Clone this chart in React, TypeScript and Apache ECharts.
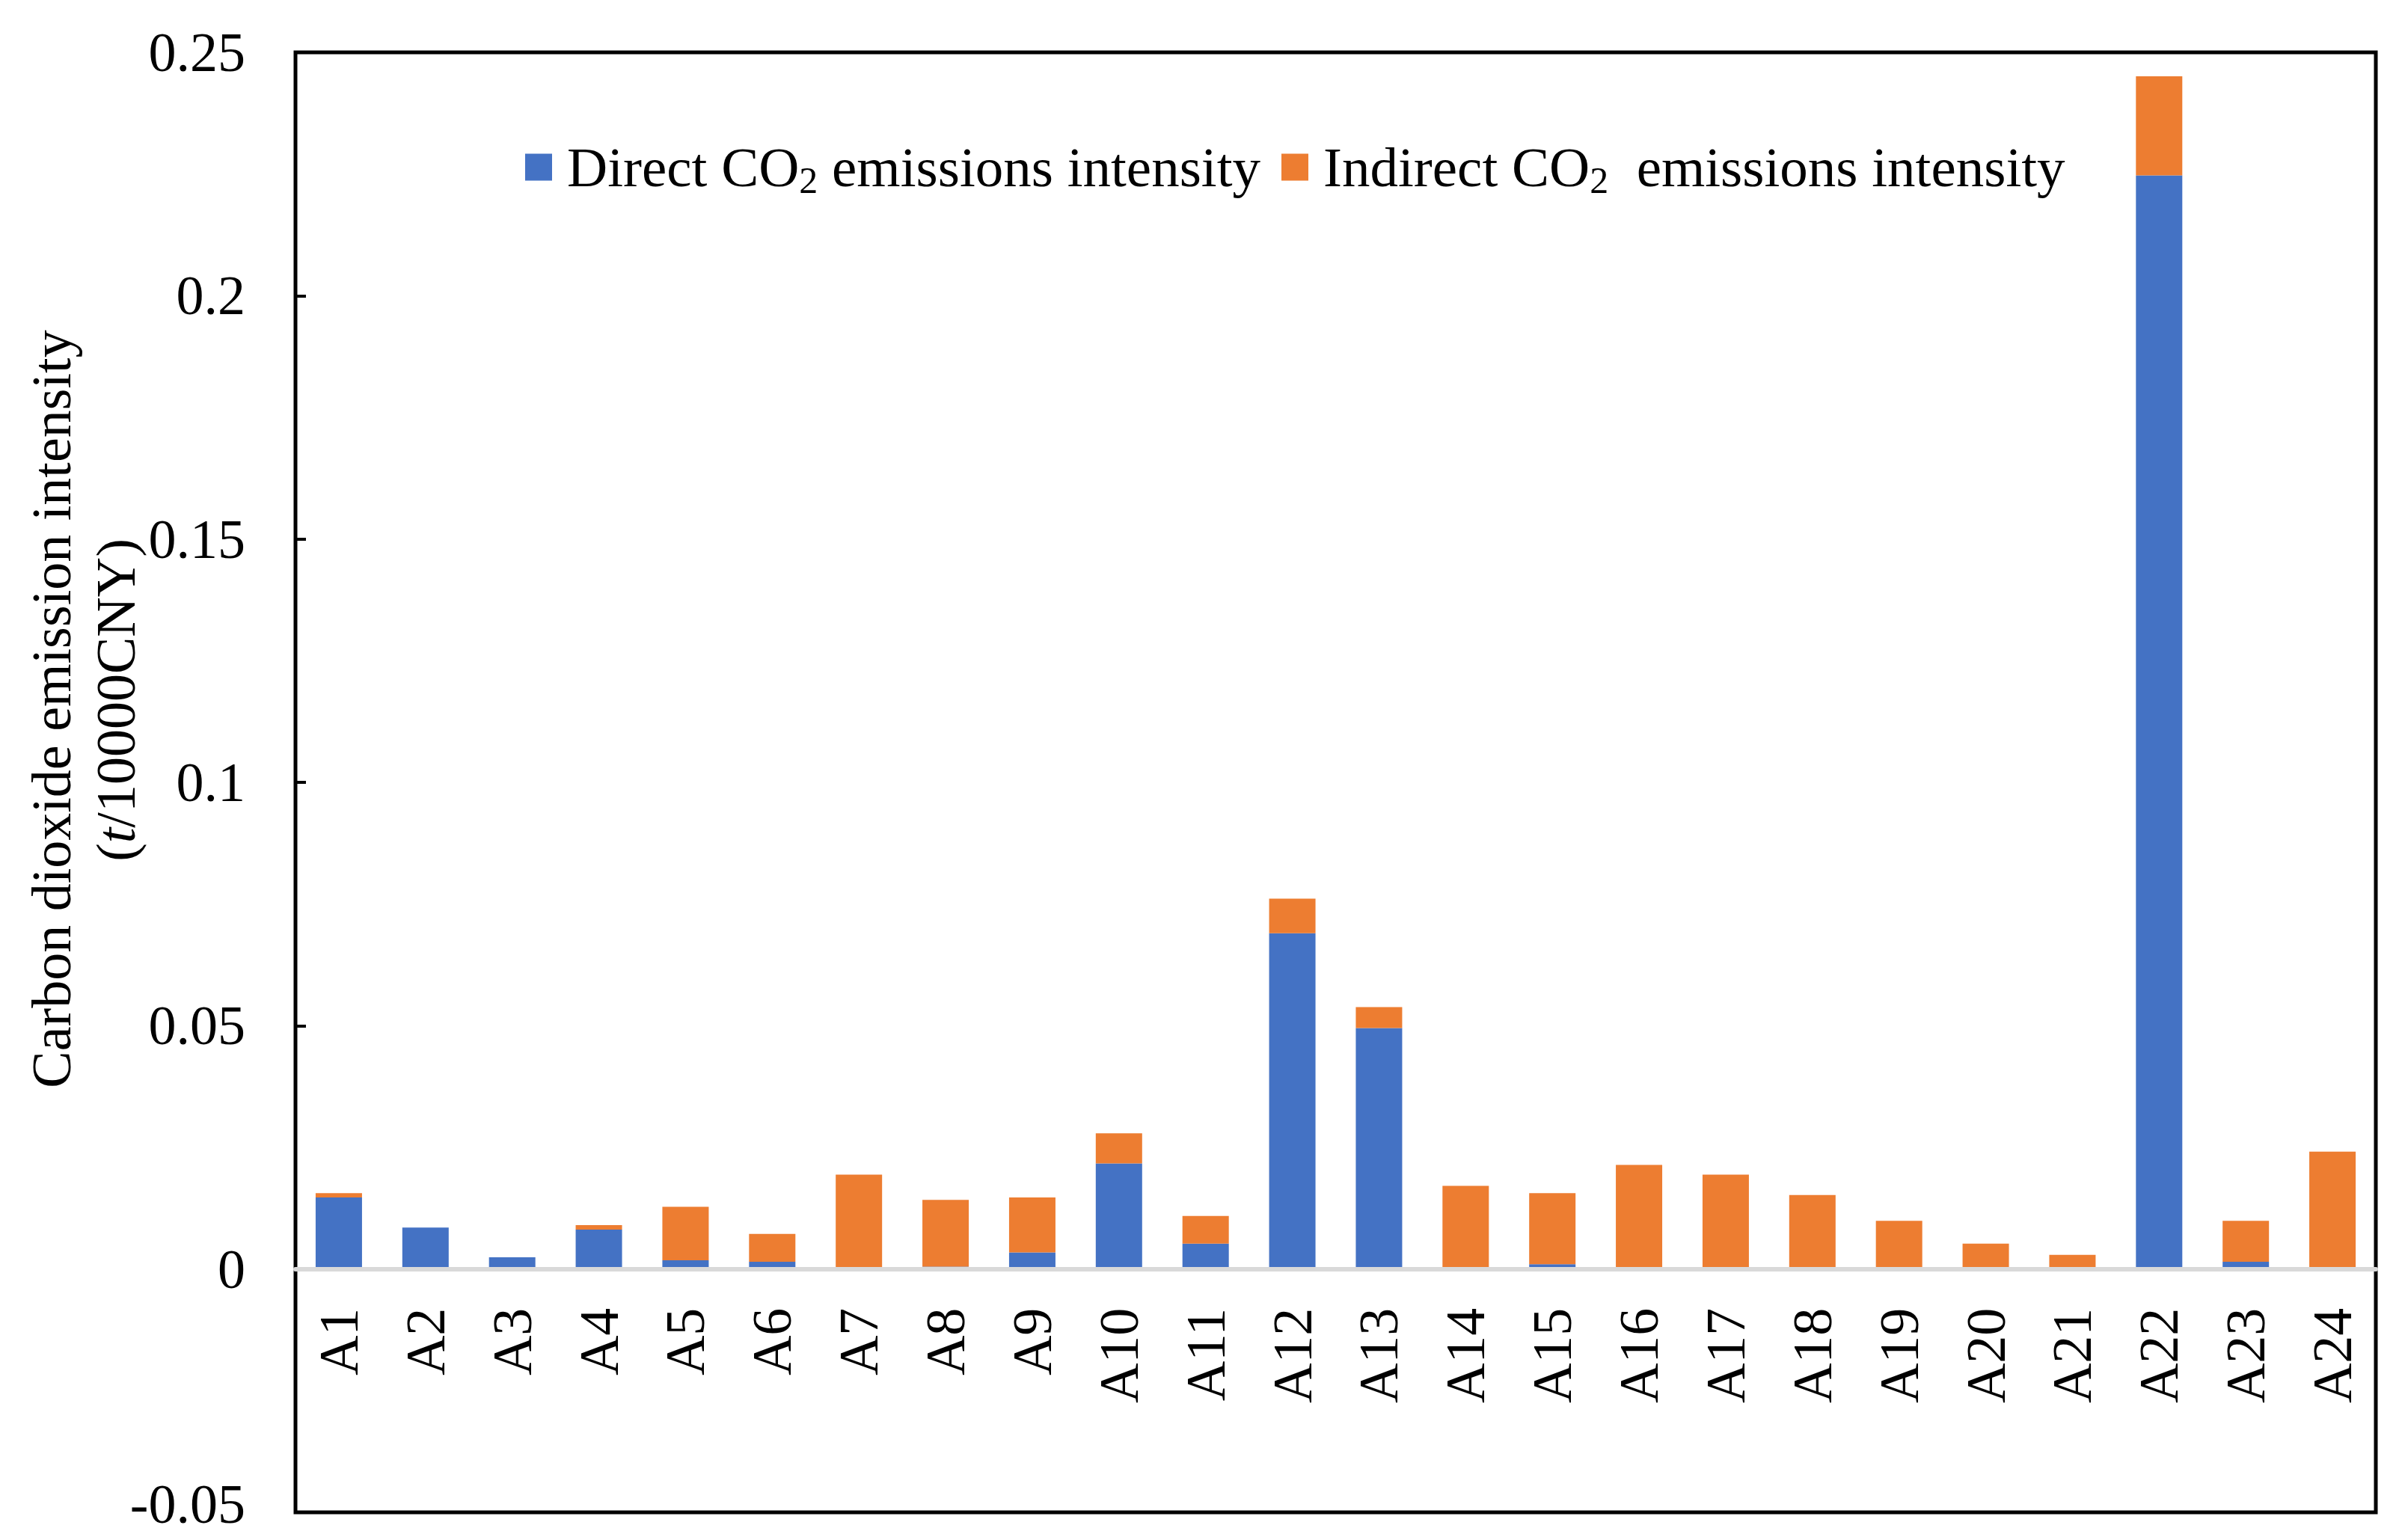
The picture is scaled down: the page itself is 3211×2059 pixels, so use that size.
import React, { useEffect, useRef } from "react";
import * as echarts from "echarts";

const categories = [
  "A1", "A2", "A3", "A4", "A5", "A6", "A7", "A8", "A9", "A10", "A11", "A12",
  "A13", "A14", "A15", "A16", "A17", "A18", "A19", "A20", "A21", "A22", "A23", "A24",
];

const directValues = [
  0.0147, 0.0085, 0.0024, 0.0081, 0.0018, 0.0015, 0.0, 0.0005, 0.0034, 0.0217, 0.0052, 0.069,
  0.0495, 0.0004, 0.001, 0.0004, 0.0, 0.0, 0.0, 0.0, 0.0004, 0.2247, 0.0015, 0.0,
];

const indirectValues = [
  0.0009, 0.0, 0.0, 0.0009, 0.011, 0.0057, 0.0194, 0.0137, 0.0113, 0.0062, 0.0057, 0.0071,
  0.0043, 0.0167, 0.0146, 0.021, 0.0194, 0.0152, 0.0099, 0.0052, 0.0025, 0.0204, 0.0084, 0.0241,
];

const yMin = -0.05;
const yMax = 0.25;
const yInterval = 0.05;

const seriesNames = ["Direct CO2 emissions intensity", "Indirect CO2  emissions intensity"];
const legendLabels = ["Direct CO{sub|2} emissions intensity", "Indirect CO{sub|2}  emissions intensity"];
const yTitleLine1 = "Carbon dioxide emission intensity";
const yTitleLine2 = "({it|t}/10000CNY)";

const FONT = "'Liberation Serif', 'Times New Roman', serif";

const GRID_TOP = 70;
const GRID_BOTTOM = 37;
const CHART_H = 2059;

export default function App() {
  const ref = useRef<HTMLDivElement>(null);

  useEffect(() => {
    const chart = echarts.init(ref.current as HTMLDivElement, null, { renderer: "svg" });
    const plotH = CHART_H - GRID_TOP - GRID_BOTTOM;
    const zeroOffset = -plotH * ((0 - yMin) / (yMax - yMin));
    chart.setOption({
      animation: false,
      backgroundColor: "#ffffff",
      grid: {
        left: 395,
        right: 35,
        top: GRID_TOP,
        bottom: GRID_BOTTOM,
        show: true,
        borderColor: "#000000",
        borderWidth: 5,
        backgroundColor: "transparent",
        containLabel: false,
        outerBoundsMode: "none",
      },
      legend: {
        left: 702,
        top: 186,
        padding: 0,
        itemWidth: 36,
        itemHeight: 36,
        itemGap: 28,
        icon: "rect",
        data: seriesNames,
        formatter: (name: string) => legendLabels[seriesNames.indexOf(name)],
        textStyle: {
          fontFamily: FONT,
          fontSize: 75,
          color: "#000000",
          padding: [0, 0, 0, 15],
          rich: {
            sub: {
              fontFamily: FONT,
              fontSize: 50,
              color: "#000000",
              padding: [34, 0, 0, 0],
            },
          },
        },
      },
      xAxis: {
        type: "category",
        data: categories,
        position: "bottom",
        offset: zeroOffset,
        z: 5,
        axisLine: {
          show: true,
          onZero: false,
          lineStyle: { color: "#D9D9D9", width: 6 },
        },
        axisTick: { show: false },
        splitLine: { show: false },
        axisLabel: {
          rotate: 90,
          margin: 52,
          fontFamily: FONT,
          fontSize: 74,
          color: "#000000",
          interval: 0,
        },
      },
      yAxis: {
        type: "value",
        min: yMin,
        max: yMax,
        interval: yInterval,
        axisLine: { show: false },
        axisTick: {
          show: true,
          inside: true,
          length: 14,
          lineStyle: { color: "#000000", width: 4 },
        },
        splitLine: { show: false },
        axisLabel: {
          margin: 67,
          fontFamily: FONT,
          fontSize: 74,
          color: "#000000",
          formatter: (v: number) => {
            const s = String(Math.round(v * 100) / 100);
            return v < 0 ? "{low|" + s + "}" : s;
          },
          rich: {
            low: {
              fontFamily: FONT,
              fontSize: 74,
              color: "#000000",
              padding: [0, 0, 22, 0],
            },
          },
        },
      },
      series: [
        {
          name: seriesNames[0],
          type: "bar",
          stack: "total",
          barWidth: "53.5%",
          data: directValues,
          itemStyle: { color: "#4472C4" },
        },
        {
          name: seriesNames[1],
          type: "bar",
          stack: "total",
          barWidth: "53.5%",
          data: indirectValues,
          itemStyle: { color: "#ED7D31" },
        },
      ],
      graphic: [
        {
          type: "text",
          x: 69,
          y: 948,
          rotation: Math.PI / 2,
          style: {
            text: yTitleLine1,
            fontFamily: FONT,
            fontSize: 74,
            fill: "#000000",
            align: "center",
            verticalAlign: "middle",
            textAlign: "center",
            textVerticalAlign: "middle",
          },
        },
        {
          type: "text",
          x: 155,
          y: 936,
          rotation: Math.PI / 2,
          style: {
            text: yTitleLine2,
            fontFamily: FONT,
            fontSize: 74,
            fill: "#000000",
            align: "center",
            verticalAlign: "middle",
            textAlign: "center",
            textVerticalAlign: "middle",
            rich: {
              it: {
                fontFamily: FONT,
                fontSize: 74,
                fontStyle: "italic",
                fill: "#000000",
              },
            },
          },
        },
      ],
    });
    return () => chart.dispose();
  }, []);

  return (
    <div
      ref={ref}
      style={{ position: "fixed", left: 0, top: 0, width: 3211, height: CHART_H }}
    />
  );
}
